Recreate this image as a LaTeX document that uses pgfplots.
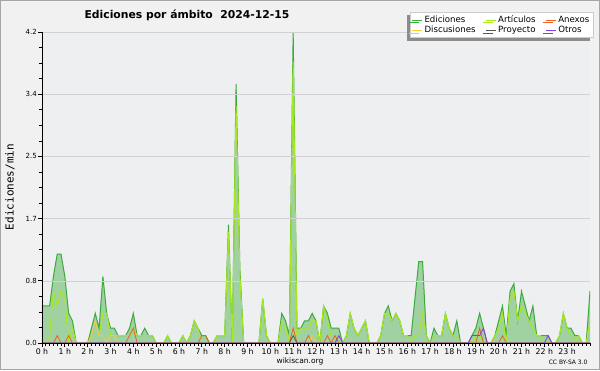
\documentclass[border=0pt]{standalone}
\usepackage{pgfplots}
\pgfplotsset{compat=1.18}
\usepackage{pgfplotstable}
\usepackage{fontspec}
\setmainfont{DejaVu Sans}
\newfontfamily\monofont{DejaVu Sans Mono}
\usetikzlibrary{shadows}
\definecolor{outerbg}{RGB}{241,241,241}
\definecolor{plotbg}{RGB}{237,239,241}
\definecolor{edline}{RGB}{60,170,60}
\definecolor{edfill}{RGB}{110,190,110}
\definecolor{artline}{RGB}{170,232,30}
\definecolor{anexline}{RGB}{240,96,32}
\definecolor{discline}{RGB}{255,200,50}
\definecolor{proyline}{RGB}{85,85,85}
\definecolor{otrosline}{RGB}{128,64,224}
\pgfplotstableread{
i T A N D P O
0 0.5 0 0 0 0 0
1 0.5 0 0 0 0 0
2 0.5 0.1 0 0 0 0
3 0.9 0.7 0 0 0 0
4 1.2 0.5 0.1 0 0 0
5 1.2 0.7 0 0 0 0
6 0.9 0.6 0 0 0 0
7 0.4 0 0.1 0 0 0
8 0.3 0.2 0 0 0 0
9 0 0 0 0 0 0
10 0 0 0 0 0 0
11 0 0 0 0 0 0
12 0 0 0 0 0 0
13 0.2 0.1 0 0.1 0 0
14 0.4 0.1 0 0.3 0 0
15 0.2 0.1 0 0.1 0 0
16 0.9 0.4 0 0.1 0 0
17 0.4 0.4 0 0 0 0
18 0.2 0.1 0 0.1 0 0
19 0.2 0.1 0 0.1 0 0
20 0.1 0.1 0 0 0 0
21 0.1 0.1 0 0 0 0
22 0.1 0.1 0 0 0 0
23 0.2 0.1 0.1 0 0 0
24 0.4 0.2 0.2 0 0 0
25 0.1 0.1 0 0 0 0
26 0.1 0.1 0 0 0 0
27 0.2 0.1 0 0 0 0
28 0.1 0.1 0 0 0 0
29 0.1 0.1 0 0 0 0
30 0 0 0 0 0 0
31 0 0 0 0 0 0
32 0 0 0 0 0 0
33 0.1 0.1 0 0 0 0
34 0 0 0 0 0 0
35 0 0 0 0 0 0
36 0 0 0 0 0 0
37 0.1 0.1 0 0 0 0
38 0 0 0 0 0 0
39 0.1 0.1 0 0 0 0
40 0.3 0.3 0 0 0 0
41 0.2 0.2 0 0 0 0
42 0.1 0 0.1 0 0 0
43 0.1 0 0.1 0 0 0
44 0 0 0 0 0 0
45 0 0 0 0 0 0
46 0.1 0.1 0 0 0 0
47 0.1 0.1 0 0 0 0
48 0.1 0.1 0 0 0 0
49 1.6 1.5 0 0 0 0
50 0 0 0 0 0 0
51 3.5 3.2 0 0 0 0
52 1.0 0.9 0 0 0 0
53 0 0 0 0 0 0
54 0 0 0 0 0 0
55 0 0 0 0 0 0
56 0 0 0 0 0 0
57 0 0 0 0 0 0
58 0.6 0.6 0 0 0 0
59 0.1 0.1 0 0 0 0
60 0 0 0 0 0 0
61 0 0 0 0 0 0
62 0 0 0 0 0 0
63 0.4 0.3 0 0 0 0
64 0.3 0.2 0 0 0 0
65 0.1 0 0 0 0 0
66 4.2 3.8 0.2 0 0.1 0
67 0.2 0.1 0 0 0 0
68 0.2 0.2 0 0 0 0
69 0.3 0.2 0 0 0 0
70 0.3 0.2 0.1 0 0 0
71 0.4 0.3 0 0.1 0 0
72 0.3 0.3 0 0 0 0
73 0 0 0 0 0 0
74 0.5 0.5 0 0 0 0
75 0.4 0.3 0.1 0 0 0
76 0.2 0.1 0 0 0 0
77 0.2 0.1 0.1 0 0 0
78 0.2 0 0 0 0 0.1
79 0 0 0 0 0 0
80 0.1 0.1 0 0 0 0
81 0.4 0.4 0 0 0 0
82 0.2 0.2 0 0 0 0
83 0.1 0.1 0 0 0 0
84 0.2 0.2 0 0 0 0
85 0.3 0.3 0 0 0 0
86 0 0 0 0 0 0
87 0 0 0 0 0 0
88 0 0 0 0 0 0
89 0.1 0.1 0 0 0 0
90 0.4 0.4 0 0 0 0
91 0.5 0.4 0 0 0 0
92 0.3 0.3 0 0 0 0
93 0.4 0.4 0 0 0 0
94 0.3 0.3 0 0 0 0
95 0.1 0.1 0 0 0 0
96 0.1 0.1 0 0 0 0
97 0.1 0 0 0 0 0
98 0.6 0.1 0 0 0 0
99 1.1 0.1 0 0 0 0
100 1.1 0.4 0 0 0 0
101 0.1 0.1 0 0 0 0
102 0 0 0 0 0 0
103 0.2 0.1 0 0 0 0
104 0.1 0.1 0 0 0 0
105 0.1 0.1 0 0 0 0
106 0.4 0.4 0 0 0 0
107 0.2 0.2 0 0 0 0
108 0.1 0.1 0 0 0 0
109 0.3 0.1 0 0 0 0
110 0 0 0 0 0 0
111 0 0 0 0 0 0
112 0 0 0 0 0 0
113 0.1 0 0 0 0 0.1
114 0.2 0.1 0 0 0 0.1
115 0.4 0.1 0.2 0 0 0.1
116 0.2 0 0 0 0 0.2
117 0 0 0 0 0 0
118 0 0 0 0 0 0
119 0.1 0.1 0 0 0 0
120 0.3 0.2 0 0 0 0
121 0.5 0.4 0.1 0 0 0
122 0.1 0 0 0 0 0
123 0.7 0.6 0 0 0 0
124 0.8 0.7 0 0 0 0
125 0.3 0.3 0 0 0 0
126 0.7 0.5 0 0 0 0
127 0.5 0.4 0 0 0 0
128 0.3 0.3 0 0 0 0
129 0.5 0.2 0 0 0 0
130 0.1 0.1 0 0 0 0
131 0.1 0.1 0 0 0 0
132 0.1 0 0 0 0 0
133 0.1 0 0 0 0 0.1
134 0 0 0 0 0 0
135 0 0 0 0 0 0
136 0.1 0.1 0 0 0 0
137 0.4 0.4 0 0 0 0
138 0.2 0.2 0 0 0 0
139 0.2 0.1 0 0 0 0
140 0.1 0 0 0 0 0
141 0.1 0.1 0 0 0 0
142 0 0 0 0 0 0
143 0 0 0 0 0 0
144 0.7 0.3 0 0 0 0
}\data
\begin{document}
\begin{tikzpicture}[x=1pt,y=1pt]
\path[use as bounding box] (0,0) rectangle (600,370);
\fill[outerbg] (0,0) rectangle (600,370);
\draw[black!35, line width=1.2pt] (0.6,0.6) rectangle (599.4,369.4);
\begin{axis}[
  at={(42pt,27pt)}, anchor=south west,
  scale only axis, width=548pt, height=311pt,
  xmin=0, xmax=144, ymin=0, ymax=4.2,
  axis background/.style={fill=plotbg},
  axis on top,
  axis x line*=bottom, axis y line*=left,
  axis line style={-, black, line width=0.9pt},
  tick align=outside,
  major tick length=4pt, minor tick length=3pt,
  every tick/.style={black, line width=0.7pt},
  xtick={0,6,...,138},
  xticklabels={0 h,1 h,2 h,3 h,4 h,5 h,6 h,7 h,8 h,9 h,10 h,11 h,12 h,13 h,14 h,15 h,16 h,17 h,18 h,19 h,20 h,21 h,22 h,23 h},
  minor xtick={0,1,...,144},
  ytick={0,0.84,1.68,2.52,3.36,4.2},
  yticklabels={0.0,0.8,1.7,2.5,3.4,4.2},
  minor ytick={0.21,0.42,0.63,1.05,1.26,1.47,1.89,2.1,2.31,2.73,2.94,3.15,3.57,3.78,3.99},
  ymajorgrids,
  grid style={black!18, line width=0.6pt},
  xticklabel style={font=\fontsize{7.8}{8}\selectfont, inner sep=1pt},
  yticklabel style={font=\fontsize{7}{8}\selectfont, inner sep=1pt},
  legend columns=3,
  legend cell align=left,
  legend image code/.code={\draw[#1, line width=0.6pt] (0pt,0pt) -- (10pt,0pt);},
  legend style={at={(1,1)}, anchor=north east, xshift=3pt, yshift=20pt,
    draw=black!20, fill=white, font=\fontsize{8.6}{9}\selectfont,
    inner sep=1.5pt, row sep=-2pt,
    drop shadow={shadow xshift=-3pt, shadow yshift=-3pt, fill=black!45, opacity=1},
    /tikz/every even column/.append style={column sep=8pt}},
]
\addplot[draw=none, fill=edfill, fill opacity=0.6, forget plot] table[x=i,y=T]{\data} \closedcycle;
\addplot[edline, line width=1pt] table[x=i,y=T]{\data};
\addlegendentry{Ediciones}
\addplot[artline, line width=1pt] table[x=i,y=A]{\data};
\addlegendentry{Artículos}
\addplot[anexline, line width=0.8pt] table[x=i,y=N]{\data};
\addlegendentry{Anexos}
\addplot[discline, line width=0.8pt] table[x=i,y=D]{\data};
\addlegendentry{Discusiones}
\addplot[proyline, line width=0.8pt] table[x=i,y=P]{\data};
\addlegendentry{Proyecto}
\addplot[otrosline, line width=0.8pt] table[x=i,y=O]{\data};
\addlegendentry{Otros}
\end{axis}
\node[font=\bfseries\fontsize{10.8}{12}\selectfont] at (187,355) {Ediciones por ámbito\ \ 2024-12-15};
\node[rotate=90, font=\monofont\fontsize{11}{12}\selectfont] at (10,183) {Ediciones/min};
\node[font=\fontsize{7.5}{8}\selectfont] at (300,9) {wikiscan.org};
\node[font=\fontsize{6}{7}\selectfont, anchor=east] at (591,8) {CC BY-SA 3.0};
\end{tikzpicture}
\end{document}
